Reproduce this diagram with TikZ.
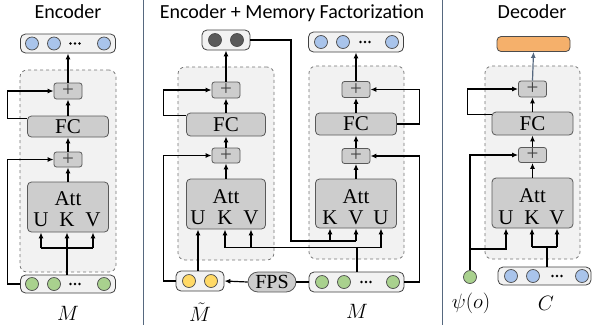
\documentclass[tikz,border=0pt]{standalone}
\usepackage{fontspec}
\setmainfont{Liberation Serif}
\newfontfamily\titlefont{Carlito}
\usetikzlibrary{arrows.meta}
\definecolor{cblue}{HTML}{A9C4EB}
\definecolor{cgreen}{HTML}{A9D18E}
\definecolor{cyellow}{HTML}{FFD966}
\definecolor{cdark}{HTML}{5A5A5A}
\definecolor{corange}{HTML}{F5B06B}
\definecolor{cbox}{HTML}{CDCDCD}
\definecolor{cbg}{HTML}{F2F2F2}
\definecolor{cslate}{HTML}{56687F}
\tikzset{
  vecbar/.style={draw=black!75, fill=cbg, rounded corners=5pt, line width=0.8pt, inner sep=0pt},
  vdot/.style={circle, draw=black!70, line width=0.7pt, minimum size=13pt, inner sep=0pt},
  bgbox/.style={draw=black!55, dashed, fill=cbg, rounded corners=7pt, line width=0.75pt, inner sep=0pt},
  blk/.style={draw=black!65, fill=cbox, rounded corners=4pt, line width=0.8pt, inner sep=0pt, font=\fontsize{21}{21}\selectfont},
  plusbox/.style={draw=black!65, fill=cbox, rounded corners=2.5pt, line width=0.8pt, inner sep=0pt, minimum width=28pt, minimum height=16pt, font=\fontsize{21}{21}\selectfont, text=black!75},
  conn/.style={line width=1.2pt, draw=black},
  arr/.style={conn, -{Latex[length=6pt,width=5pt]}},
  lbl/.style={font=\fontsize{21}{21}\selectfont, inner sep=0pt},
  mlbl/.style={font=\fontsize{22}{22}\selectfont, inner sep=0pt},
  ttl/.style={font=\titlefont\fontsize{20}{24}\selectfont, inner sep=0pt, anchor=base},
  sepline/.style={draw=cslate, line width=0.8pt},
}
\begin{document}
\begin{tikzpicture}[x=1pt,y=-1pt]
\useasboundingbox (0,0) rectangle (592,325);
% separators
\draw[sepline] (143,0) -- (143,325);
\draw[sepline] (442,0) -- (442,325);
% titles
\node[ttl] (t1) at (68,18) {Encoder};
\node[ttl] (t2) at (292,18) {Encoder + Memory Factorization};
\node[ttl] (t3) at (532,18) {Decoder};

% ================= Encoder =================
\node[bgbox, minimum width=96pt, minimum height=202pt] (ebg) at (68,171) {};
\node[vecbar, minimum width=95pt, minimum height=19pt] (eout) at (68,43.5) {};
\node[vdot, fill=cblue] (eo1) at (32,43.5) {};
\node[vdot, fill=cblue] (eo2) at (54,43.5) {};
\node[vdot, fill=cblue] (eo3) at (104,43.5) {};
\foreach \dx in {-4.5,0,4.5} \fill (75+\dx,43.5) circle (1.4pt);
\node[plusbox] (eP2) at (68,91) {+};
\node[blk, minimum width=81pt, minimum height=21pt] (eFC) at (68,126.5) {FC};
\node[plusbox, minimum height=15pt] (eP1) at (68,159.5) {+};
\node[blk, minimum width=81pt, minimum height=50pt] (eAtt) at (68,207) {};
\node[lbl] (eAttT) at (68,198.5) {Att};
\node[lbl] (eU) at (41,220) {U};
\node[lbl] (eK) at (67,220) {K};
\node[lbl] (eV) at (93,220) {V};
\node[vecbar, minimum width=95pt, minimum height=18pt] (ein) at (68,284) {};
\node[vdot, fill=cgreen] (ei1) at (32,284) {};
\node[vdot, fill=cgreen] (ei2) at (54,284) {};
\node[vdot, fill=cgreen] (ei3) at (104,284) {};
\foreach \dx in {-4.5,0,4.5} \fill (75+\dx,284) circle (1.4pt);
\node[mlbl] (eM) at (68,313) {$M$};
\coordinate (eh) at (67,248);
\draw[arr] (ein.north -| eK) -- (eAtt.south -| eK);
\draw[conn] (eh -| eU) -- (eh -| eV);
\draw[arr] (eh -| eU) -- (eAtt.south -| eU);
\draw[arr] (eh -| eV) -- (eAtt.south -| eV);
\draw[arr] (eAtt.north) -- (eP1.south);
\draw[arr] (eP1.north) -- (eFC.south);
\draw[arr] (eFC.north) -- (eP2.south);
\draw[arr] (eP2.north) -- (eout.south);
\draw[arr] (ein.west) -- ++(-12.5,0) |- (eP1.west);
\draw[arr] ([yshift=-3pt]eFC.north west) -- ++(-19.5,0) |- (eP2.west);

% ================= Middle left =================
\node[bgbox, minimum width=96pt, minimum height=193pt] (Lbg) at (226,163.5) {};
\node[vecbar, minimum width=48pt, minimum height=20pt] (Lout) at (226,40) {};
\node[vdot, fill=cdark] (Lo1) at (215,40) {};
\node[vdot, fill=cdark] (Lo2) at (237,40) {};
\node[plusbox] (LP2) at (226,90) {+};
\node[blk, minimum width=79pt, minimum height=23pt] (LFC) at (226,124.5) {FC};
\node[plusbox, minimum height=15pt] (LP1) at (226,155.5) {+};
\node[blk, minimum width=79pt, minimum height=50pt] (LAtt) at (226,204) {};
\node[lbl] (LAttT) at (226,196.5) {Att};
\node[lbl] (LU) at (198,218) {U};
\node[lbl] (LK) at (225,218) {K};
\node[lbl] (LV) at (251,218) {V};
\node[vecbar, minimum width=48pt, minimum height=20pt] (Lin) at (200,281) {};
\node[vdot, fill=cyellow] (Li1) at (189,281) {};
\node[vdot, fill=cyellow] (Li2) at (211,281) {};
\node[blk, minimum width=48pt, minimum height=20pt, rounded corners=10pt, font=\fontsize{20}{20}\selectfont] (FPS) at (272,282) {FPS};
\node[mlbl] (LM) at (200,312) {$\tilde{M}$};

% ================= Middle right =================
\node[bgbox, minimum width=95pt, minimum height=193pt] (Rbg) at (356.5,162.5) {};
\node[vecbar, minimum width=95pt, minimum height=20pt] (Rout) at (356,42) {};
\node[vdot, fill=cblue] (Ro1) at (321,42) {};
\node[vdot, fill=cblue] (Ro2) at (343,42) {};
\node[vdot, fill=cblue] (Ro3) at (392,42) {};
\foreach \dx in {-4.5,0,4.5} \fill (365+\dx,42) circle (1.4pt);
\node[plusbox] (RP2) at (356,89.5) {+};
\node[blk, minimum width=81pt, minimum height=22pt] (RFC) at (356,124) {FC};
\node[plusbox, minimum height=15pt] (RP1) at (356,156) {+};
\node[blk, minimum width=81pt, minimum height=49pt] (RAtt) at (356,203.5) {};
\node[lbl] (RAttT) at (356,196.5) {Att};
\node[lbl] (RK) at (330,218) {K};
\node[lbl] (RV) at (356,218) {V};
\node[lbl] (RU) at (381,218) {U};
\node[vecbar, minimum width=95pt, minimum height=20pt] (Rin) at (356.5,282) {};
\node[vdot, fill=cgreen] (Ri1) at (322,282) {};
\node[vdot, fill=cgreen] (Ri2) at (344,282) {};
\node[vdot, fill=cgreen] (Ri3) at (393,282) {};
\foreach \dx in {-4.5,0,4.5} \fill (366+\dx,282) circle (1.4pt);
\node[mlbl] (RM) at (357,311) {$M$};

% middle connectors
\draw[arr] (Lin.north -| LU) -- (LAtt.south -| LU);
\draw[arr] (FPS.west) -- (Lin.east);
\draw[conn] (Rin.west) -- (FPS.east);
\draw[arr] (Lin.west) -- ++(-12,0) |- (LP1.west);
\draw[arr] ([yshift=-3pt]LFC.north west) -- ++(-22.5,0) |- (LP2.west);
\draw[arr] (LAtt.north) -- (LP1.south);
\draw[arr] (LP1.north) -- (LFC.south);
\draw[arr] (LFC.north) -- (LP2.south);
\draw[arr] (LP2.north) -- (Lout.south);
\coordinate (dk) at (291,241);
\draw[conn] (Lout.east) -| (dk) -- (dk -| RV);
\draw[arr] (dk -| RK) -- (RAtt.south -| RK);
\draw[arr] (dk -| RV) -- (RAtt.south -| RV);
\coordinate (gm) at (357,247.5);
\draw[conn] (Rin.north -| gm) -- (gm);
\draw[conn] (gm -| LK) -- (gm -| RU);
\draw[arr] (gm -| LK) -- (LAtt.south -| LK);
\draw[arr] (gm -| LV) -- (LAtt.south -| LV);
\draw[arr] (gm -| RU) -- (RAtt.south -| RU);
\draw[arr] (RAtt.north) -- (RP1.south);
\draw[arr] (RP1.north) -- (RFC.south);
\draw[arr] (RFC.north) -- (RP2.south);
\draw[arr] (RP2.north) -- (Rout.south);
\draw[arr] (Rin.east) -- ++(15,0) |- (RP1.east);
\draw[arr] (RFC.east) -- ++(22.5,0) |- (RP2.east);

% ================= Decoder =================
\node[bgbox, minimum width=95pt, minimum height=193pt] (Dbg) at (532.5,162.5) {};
\node[draw=black!70, fill=corange, rounded corners=4pt, line width=0.8pt, inner sep=0pt, minimum width=73pt, minimum height=15pt] (Dout) at (533.5,44) {};
\node[plusbox] (DP2) at (532.5,89) {+};
\node[blk, minimum width=81pt, minimum height=23pt] (DFC) at (532.5,123.5) {FC};
\node[plusbox, minimum height=15pt] (DP1) at (532.5,155) {+};
\node[blk, minimum width=81pt, minimum height=50pt] (DAtt) at (532.5,203) {};
\node[lbl] (DAttT) at (532.5,195.5) {Att};
\node[lbl] (DU) at (506,218) {U};
\node[lbl] (DK) at (532,218) {K};
\node[lbl] (DV) at (557,218) {V};
\node[vdot, fill=cgreen] (psi) at (470,277) {};
\node[vecbar, minimum width=93pt, minimum height=18pt] (Cin) at (544.5,276) {};
\node[vdot, fill=cblue] (Ci1) at (511,276) {};
\node[vdot, fill=cblue] (Ci2) at (533,276) {};
\node[vdot, fill=cblue] (Ci3) at (582,276) {};
\foreach \dx in {-4.5,0,4.5} \fill (557+\dx,276) circle (1.4pt);
\node[mlbl] (psiL) at (471,303) {$\psi(o)$};
\node[mlbl] (CL) at (546,303) {$C$};
\draw[arr, draw=cslate] (DP2.north) -- (Dout.south);
\draw[arr] (DAtt.north) -- (DP1.south);
\draw[arr] (DP1.north) -- (DFC.south);
\draw[arr] (DFC.north) -- (DP2.south);
\draw[arr] (psi.north) |- (DP1.west);
\coordinate (dh) at (470,249);
\draw[arr] (dh) -| (DAtt.south -| DU);
\coordinate (ch) at (547,247);
\draw[conn] (Cin.north -| ch) -- (ch);
\draw[conn] (ch -| DK) -- (ch -| DV);
\draw[arr] (ch -| DK) -- (DAtt.south -| DK);
\draw[arr] (ch -| DV) -- (DAtt.south -| DV);
\draw[arr] ([yshift=-3pt]DFC.north west) -- ++(-24,0) |- (DP2.west);
\end{tikzpicture}
\end{document}
